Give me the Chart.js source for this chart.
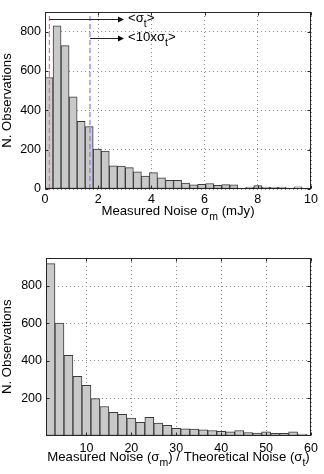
<!DOCTYPE html>
<html>
<head>
<meta charset="utf-8">
<script src="https://cdn.jsdelivr.net/npm/chart.js@4.4.0/dist/chart.umd.min.js"></script>
<style>
  html, body { margin: 0; padding: 0; background: #fff; }
  #wrap { position: relative; width: 324px; height: 474px; }
  canvas { position: absolute; left: 0; }
</style>
</head>
<body>
<div id="wrap">
  <canvas id="noiseChart" width="324" height="237" style="top:0"></canvas>
  <canvas id="ratioChart" width="324" height="237" style="top:237px"></canvas>
</div>
<script>
// top panel: measured noise (mJy), histogram bin centres and counts
const noiseBins = [0.151, 0.453, 0.755, 1.057, 1.359, 1.661, 1.963, 2.265, 2.567, 2.869, 3.171,
    3.473, 3.775, 4.077, 4.379, 4.681, 4.983, 5.285, 5.587, 5.889, 6.191, 6.493, 6.795,
    7.097, 7.399, 7.701, 8.003, 8.305, 8.607, 8.909, 9.211, 9.513, 9.815];
const noiseCounts = [567, 830, 729, 469, 344, 317, 203, 193, 118, 117, 109, 87, 66, 83, 57,
    44, 44, 30, 21, 24, 28, 19, 22, 21, 5, 10, 17, 10, 9, 10, 5, 11, 5];
const noiseXTicks = [0, 2, 4, 6, 8, 10];
const noiseYTicks = [0, 200, 400, 600, 800];

// <sigma_t> and <10 x sigma_t> markers
const markerValues = [0.165, 1.69];
const markerColors = ['#e57a80', '#7b7bf5'];
const arrowLevels = [864, 769];
const arrowEnd = 2.97;
const markerLabels = ['<σ', '<10xσ'];

// bottom panel: measured / theoretical noise ratio
const ratioBins = [2, 4, 6, 8, 10, 12, 14, 16, 18, 20, 22, 24, 26, 28, 30, 32, 34, 36, 38,
    40, 42, 44, 46, 48, 50, 52, 54, 56, 58, 60];
const ratioCounts = [920, 602, 429, 317, 268, 197, 155, 124, 113, 93, 71, 97, 66, 54, 38,
    36, 34, 30, 27, 22, 19, 27, 16, 13, 19, 12, 12, 19, 7, 4];
const ratioXTicks = [10, 20, 30, 40, 50, 60];
const ratioYTicks = [200, 400, 600, 800];

const FONT = 'Liberation Sans, Arial, Helvetica, sans-serif';

// draw text pieces, some of them as subscripts, centred or left aligned
function drawParts(ctx, parts, x, y, align) {
    const big = '13.2px ' + FONT, small = '10.5px ' + FONT;
    let w = 0;
    parts.forEach(p => { ctx.font = p[1] ? small : big; w += ctx.measureText(p[0]).width; });
    let cx = align === 'center' ? x - w / 2 : x;
    ctx.textAlign = 'left';
    ctx.textBaseline = 'alphabetic';
    ctx.fillStyle = '#000';
    parts.forEach(p => {
        ctx.font = p[1] ? small : big;
        ctx.fillText(p[0], cx, p[1] ? y + 5 : y);
        cx += ctx.measureText(p[0]).width;
    });
}

const matlabBox = {
    id: 'matlabBox',
    afterDatasetsDraw(chart, args, opts) {
        const ctx = chart.ctx, a = chart.chartArea;
        const xs = chart.scales.x, ys = chart.scales.y;
        ctx.save();

        if (opts.arrows) {
            ctx.strokeStyle = '#222';
            ctx.fillStyle = '#111';
            ctx.lineWidth = 1;
            markerValues.forEach((v, i) => {
                const x0 = xs.getPixelForValue(v);
                const x1 = xs.getPixelForValue(arrowEnd);
                const y = Math.round(ys.getPixelForValue(arrowLevels[i])) + 0.5;
                ctx.beginPath();
                ctx.moveTo(x0, y);
                ctx.lineTo(x1 - 5, y);
                ctx.stroke();
                ctx.beginPath();
                ctx.moveTo(x1, y);
                ctx.lineTo(x1 - 6, y - 3);
                ctx.lineTo(x1 - 6, y + 3);
                ctx.closePath();
                ctx.fill();
                drawParts(ctx, [[markerLabels[i], 0], ['t', 1], ['>', 0]], x1 + 4, y + 2, 'left');
            });
        }

        // box and inward ticks
        ctx.strokeStyle = '#262626';
        ctx.lineWidth = 1;
        const l = Math.round(a.left) + 0.5, r = Math.round(a.right) - 0.5;
        const t = Math.round(a.top) + 0.5, b = Math.round(a.bottom) - 0.5;
        ctx.strokeRect(l, t, r - l, b - t);
        ctx.beginPath();
        xs.ticks.forEach(tk => {
            const px = Math.round(xs.getPixelForValue(tk.value)) + 0.5;
            ctx.moveTo(px, b); ctx.lineTo(px, b - 3);
            ctx.moveTo(px, t); ctx.lineTo(px, t + 3);
        });
        ys.ticks.forEach(tk => {
            const py = Math.round(ys.getPixelForValue(tk.value)) + 0.5;
            ctx.moveTo(l, py); ctx.lineTo(l + 3, py);
            ctx.moveTo(r, py); ctx.lineTo(r - 3, py);
        });
        ctx.stroke();

        drawParts(ctx, opts.title, (a.left + a.right) / 2, opts.titleY, 'center');
        ctx.restore();
    }
};

function makeChart(id, bins, counts, xMin, xMax, xTicks, yMax, yTicks, lay) {
    const datasets = [];
    if (lay.markers) {
        markerValues.forEach((v, i) => {
            datasets.push({
                type: 'line',
                data: [{ x: v, y: 0 }, { x: v, y: yMax }],
                borderColor: markerColors[i],
                borderWidth: 1.2,
                borderDash: [5, 3],
                pointRadius: 0,
                order: 0
            });
        });
    }
    datasets.push({
        data: bins.map((b, i) => ({ x: b, y: counts[i] })),
        backgroundColor: '#c9c9c9',
        borderColor: '#3a3a3a',
        borderWidth: 1,
        borderSkipped: false,
        barPercentage: 1,
        categoryPercentage: 1,
        order: 1
    });

    return new Chart(document.getElementById(id), {
        type: 'bar',
        data: { datasets: datasets },
        options: {
            responsive: false,
            animation: false,
            layout: { padding: { top: lay.top, right: lay.right, left: 0, bottom: 0 } },
            plugins: {
                legend: { display: false },
                tooltip: { enabled: false },
                matlabBox: { title: lay.title, titleY: lay.titleY, arrows: lay.markers }
            },
            scales: {
                x: {
                    type: 'linear',
                    min: xMin,
                    max: xMax,
                    offset: false,
                    afterBuildTicks: s => { s.ticks = xTicks.map(v => ({ value: v })); },
                    afterFit: s => { s.height = lay.xHeight; },
                    grid: { offset: false, color: '#8c8c8c', drawTicks: false },
                    border: { display: false, dash: [1, 3] },
                    ticks: { color: '#000', padding: lay.xPad, maxRotation: 0,
                             font: { family: FONT, size: 12.5 } }
                },
                y: {
                    min: 0,
                    max: yMax,
                    afterBuildTicks: s => { s.ticks = yTicks.map(v => ({ value: v })); },
                    afterFit: s => { s.width = lay.yWidth; },
                    grid: { color: '#8c8c8c', drawTicks: false },
                    border: { display: false, dash: [1, 3] },
                    ticks: { color: '#000', padding: 4, font: { family: FONT, size: 12.5 } },
                    title: { display: true, text: 'N. Observations', color: '#000', padding: -1,
                             font: { family: FONT, size: 13.2 } }
                }
            }
        },
        plugins: [matlabBox]
    });
}

makeChart('noiseChart', noiseBins, noiseCounts, 0, 10, noiseXTicks, 900, noiseYTicks, {
    top: 12, right: 13, xHeight: 48, yWidth: 45, xPad: 3, markers: true, titleY: 214.5,
    title: [['Measured Noise σ', 0], ['m', 1], [' (mJy)', 0]]
});

makeChart('ratioChart', ratioBins, ratioCounts, 1, 60, ratioXTicks, 950, ratioYTicks, {
    top: 21, right: 12.5, xHeight: 38.5, yWidth: 46, xPad: 6, markers: false, titleY: 224,
    title: [['Measured Noise (σ', 0], ['m', 1], [') / Theoretical Noise (σ', 0], ['t', 1], [')', 0]]
});
</script>
</body>
</html>
